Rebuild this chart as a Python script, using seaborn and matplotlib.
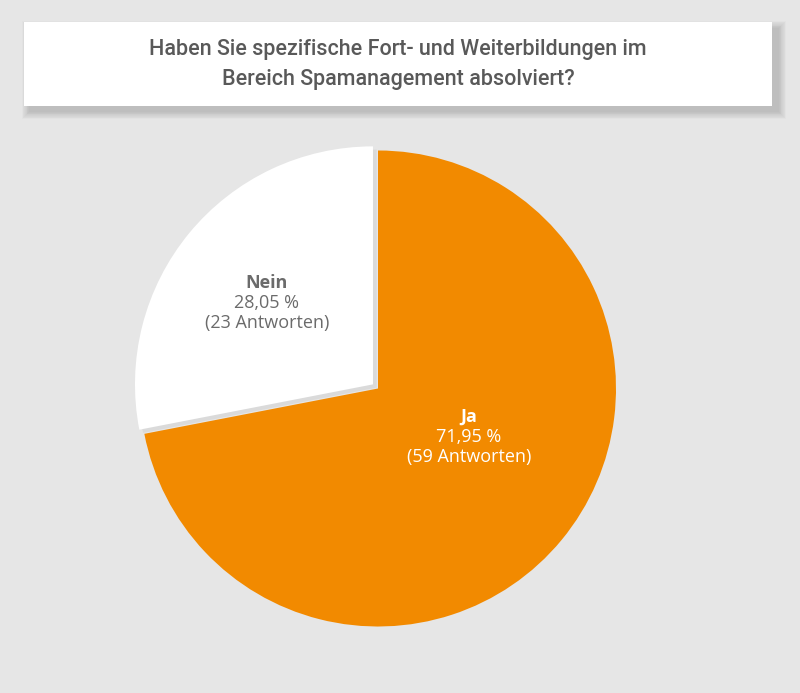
import matplotlib
matplotlib.use("Agg")
import matplotlib.pyplot as plt
import matplotlib.patches as mpatches
import seaborn as sns

# Data
labels = ["Ja", "Nein"]
percent = [71.95, 28.05]
answers = [59, 23]
title_lines = ["Haben Sie spezifische Fort- und Weiterbildungen im",
               "Bereich Spamanagement absolviert?"]

bg = "#e6e6e6"
colors = ["#f28a00", "#ffffff"]
text_colors = ["#ffffff", "#6b6b6b"]

sns.set_theme(style="white")
plt.rcParams["font.family"] = ["Open Sans", "DejaVu Sans"]

fig = plt.figure(figsize=(8, 6.93), dpi=100)
fig.patch.set_facecolor(bg)
ax = fig.add_axes([0, 0, 1, 1])
ax.set_facecolor(bg)

# title box with a soft shadow
for i in range(10):
    ax.add_patch(mpatches.Rectangle((24 + 5 - i * 0.8, 22 + 6 - i * 0.8), 748 + i * 1.6 + 2, 84 + i * 1.6,
                                    facecolor="#000000", alpha=0.016, edgecolor="none", zorder=1))
ax.add_patch(mpatches.Rectangle((24, 22), 748, 84, facecolor="white", edgecolor="none", zorder=2))
for k, line in enumerate(title_lines):
    ax.text(398, 50 + k * 30, line, ha="center", va="center", fontsize=15.5,
            color="#595959", fontweight="medium", family=["Roboto", "DejaVu Sans"], zorder=3)

cx, cy, r = 378, 388.5, 238

# y axis is inverted, so counterclock=True draws clockwise on screen
# explode is in data units (pixels here)
ax.pie(percent, colors=["none", "#dadada"], startangle=-90, counterclock=True,
       center=(cx + 1, cy + 1), radius=r, explode=[0, 3],
       wedgeprops=dict(linewidth=0), frame=True)
wedges, _ = ax.pie(percent, colors=colors, startangle=-90, counterclock=True,
                   center=(cx, cy), radius=r, explode=[0, 6.5],
                   wedgeprops=dict(linewidth=0), frame=True)
ax.set_xlim(0, 800)
ax.set_ylim(693, 0)
ax.set_aspect("auto")
ax.axis("off")

label_pos = [(469, 417), (267, 283)]
for lab, p, n, (x, y), tc in zip(labels, percent, answers, label_pos, text_colors):
    ax.text(x, y, lab, ha="center", va="center", fontsize=13, fontweight="bold", color=tc)
    ax.text(x, y + 20, f"{p:.2f} %".replace(".", ","), ha="center", va="center",
            fontsize=13, color=tc)
    ax.text(x, y + 40, f"({n} Antworten)", ha="center", va="center", fontsize=13, color=tc)

fig.savefig("out.png", dpi=100, facecolor=bg)
